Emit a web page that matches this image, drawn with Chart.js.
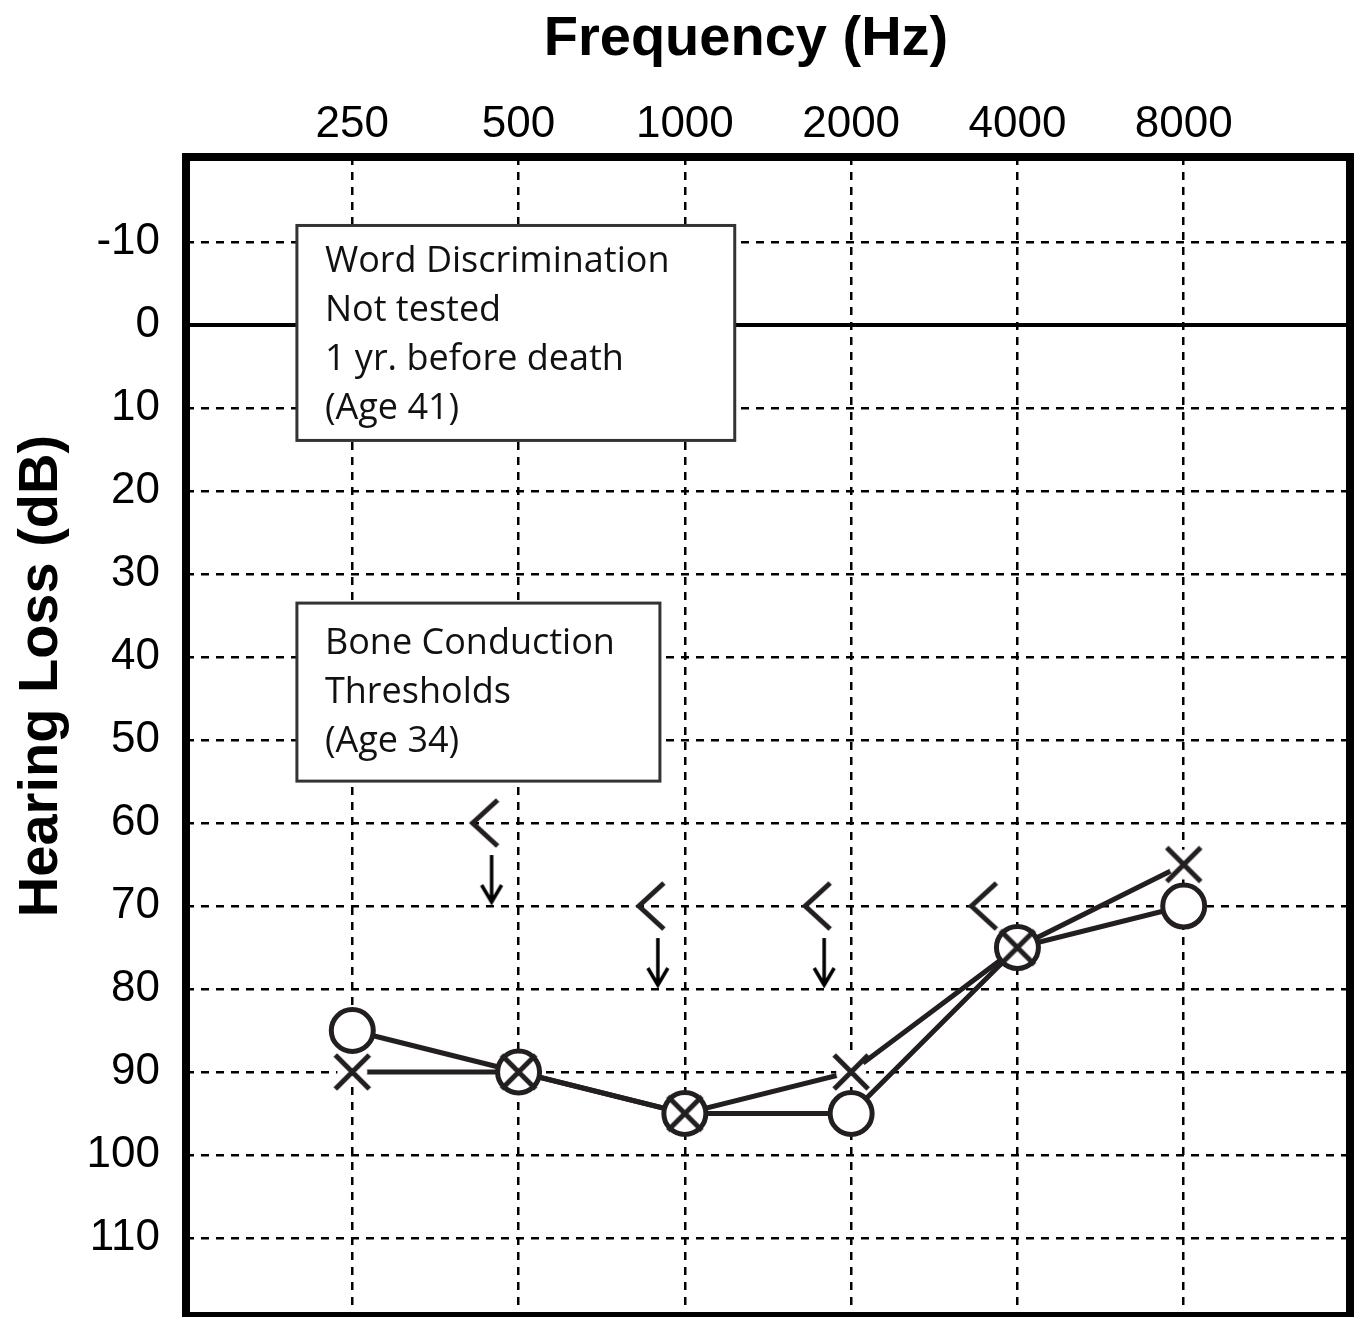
<!DOCTYPE html>
<html>
<head>
<meta charset="utf-8">
<script src="https://cdn.jsdelivr.net/npm/chart.js@4.4.1/dist/chart.umd.min.js"></script>
<style>
  html, body { margin: 0; padding: 0; background: #fff; overflow: hidden; }
  canvas { display: block; }
</style>
</head>
<body>
<canvas id="audiogram" width="1360" height="1317"></canvas>
<script>
// audiogram data (dB hearing level)
const freqLabels = ['250', '500', '1000', '2000', '4000', '8000'];
const rightEarDb = [85, 90, 95, 95, 75, 70];      // O symbols
const leftEarDb = [90, 90, 95, 90, 75, 65];       // X symbols
const boneDb = [null, 60, 70, 70, 70, null];      // < symbols
const boneNoResponse = [false, true, true, true, false, false];

const xTitle = 'Frequency (Hz)';
const yTitle = 'Hearing Loss (dB)';
const wordNote = ['Word Discrimination', 'Not tested', '1 yr. before death', '(Age 41)'];
const boneNote = ['Bone Conduction', 'Thresholds', '(Age 34)'];

const ink = '#231f20';
const pts = (arr) => arr.map((v, i) => ({ x: i, y: v }));

// X marker with a small white mask so the lines stop short of it
const makeCross = () => {
  const c = document.createElement('canvas');
  c.width = c.height = 60;
  const g = c.getContext('2d');
  const m = 30, h = 17;
  g.fillStyle = '#fff';
  g.beginPath(); g.arc(m, m, 15, 0, Math.PI * 2); g.fill();
  g.strokeStyle = ink; g.lineWidth = 5;
  g.beginPath();
  g.moveTo(m - h, m - h); g.lineTo(m + h, m + h);
  g.moveTo(m + h, m - h); g.lineTo(m - h, m + h);
  g.stroke();
  return c;
};

// bone conduction "<" drawn to the left of the frequency line, optional no-response arrow
const makeBone = (arrow) => {
  const c = document.createElement('canvas');
  c.width = 120; c.height = 170;
  const g = c.getContext('2d');
  const vx = 60 - 46, vy = 85;
  g.strokeStyle = ink; g.lineWidth = 5; g.lineJoin = 'miter';
  g.beginPath();
  g.moveTo(vx + 25, vy - 23); g.lineTo(vx, vy); g.lineTo(vx + 25, vy + 23);
  g.stroke();
  if (arrow) {
    const ax = vx + 19, tip = vy + 79;
    g.strokeStyle = '#000'; g.lineWidth = 3.5;
    g.beginPath();
    g.moveTo(ax, vy + 32); g.lineTo(ax, tip);
    g.moveTo(ax - 10, tip - 17); g.lineTo(ax, tip); g.lineTo(ax + 10, tip - 17);
    g.stroke();
  }
  return c;
};

const crossImg = makeCross();
const boneArrow = makeBone(true);
const boneOnly = makeBone(false);

const drawNote = (chart, lines, x0, x1, y0, y1, firstBase, lineGap) => {
  const { ctx, scales: { x, y } } = chart;
  const l = x.getPixelForValue(x0), r = x.getPixelForValue(x1);
  const t = y.getPixelForValue(y0), b = y.getPixelForValue(y1);
  ctx.save();
  ctx.fillStyle = '#fff';
  ctx.fillRect(l, t, r - l, b - t);
  ctx.strokeStyle = '#333'; ctx.lineWidth = 3;
  ctx.strokeRect(l, t, r - l, b - t);
  ctx.fillStyle = '#111';
  ctx.font = '36px "Open Sans"';
  ctx.textAlign = 'left'; ctx.textBaseline = 'alphabetic';
  lines.forEach((s, i) => ctx.fillText(s, l + 28, t + firstBase + i * lineGap));
  ctx.restore();
};

const notesPlugin = {
  id: 'notes',
  beforeDatasetsDraw(chart) {
    drawNote(chart, wordNote, -0.333, 2.3, -12, 13.9, 47, 49);
    drawNote(chart, boneNote, -0.333, 1.85, 33.5, 54.95, 51, 49);
  },
  afterDraw(chart) {
    const { ctx, chartArea: a } = chart;
    ctx.save();
    ctx.strokeStyle = '#000'; ctx.lineWidth = 8;
    ctx.strokeRect(a.left, a.top, a.right - a.left, a.bottom - a.top);
    ctx.fillStyle = '#000';
    ctx.font = 'bold 56px "Liberation Sans"';
    ctx.textAlign = 'center'; ctx.textBaseline = 'alphabetic';
    ctx.fillText(xTitle, 746, 55);
    ctx.translate(57, 676);
    ctx.rotate(-Math.PI / 2);
    ctx.fillText(yTitle, 0, 0);
    ctx.restore();
  }
};

const gridDash = (c) => (c.tick && c.tick.value === 0 ? [] : [8, 7]);

new Chart(document.getElementById('audiogram'), {
  type: 'line',
  data: {
    datasets: [
      { label: 'Right ear', data: pts(rightEarDb), borderColor: ink, borderWidth: 5, pointRadius: 0, tension: 0, order: 3 },
      { label: 'Left ear', data: pts(leftEarDb), borderColor: ink, borderWidth: 5, pointRadius: 0, tension: 0, order: 3 },
      { label: 'Right ear O', data: pts(rightEarDb), showLine: false, pointStyle: 'circle', pointRadius: 21,
        pointBorderWidth: 5, pointBorderColor: ink, pointBackgroundColor: '#fff', order: 2 },
      { label: 'Left ear X', data: pts(leftEarDb), showLine: false, pointStyle: crossImg, order: 1 },
      { label: 'Bone conduction', data: pts(boneDb), showLine: false,
        pointStyle: boneNoResponse.map(f => (f ? boneArrow : boneOnly)), order: 1 }
    ]
  },
  options: {
    responsive: false,
    animation: false,
    layout: { autoPadding: false, padding: { left: 0, top: 0, right: 10, bottom: 1 } },
    plugins: { legend: { display: false }, tooltip: { enabled: false } },
    scales: {
      x: {
        type: 'linear',
        position: 'top',
        min: -1, max: 6,
        afterFit: (s) => { s.height = 157; s.paddingLeft = 0; s.paddingRight = 0; },
        ticks: {
          stepSize: 1,
          padding: 6,
          color: '#000',
          font: { family: 'Liberation Sans', size: 44 },
          callback: (v) => freqLabels[v] || ''
        },
        grid: {
          drawTicks: false,
          lineWidth: 2.5,
          color: (c) => (c.tick && c.tick.value >= 0 && c.tick.value <= 5 ? '#000' : 'rgba(0,0,0,0)')
        },
        border: { display: false, dash: [8, 7] }
      },
      y: {
        reverse: true,
        min: -20.25, max: 119.4,
        afterFit: (s) => { s.width = 186; s.paddingTop = 0; s.paddingBottom = 0; },
        ticks: {
          stepSize: 10,
          includeBounds: false,
          padding: 26,
          color: '#000',
          font: { family: 'Liberation Sans', size: 44 },
          callback: (v) => (v >= -10 && v <= 110 ? String(v) : '')
        },
        grid: {
          drawTicks: false,
          lineWidth: (c) => (c.tick && c.tick.value === 0 ? 4 : 2.5),
          color: (c) => (c.tick && c.tick.value >= -10 ? '#000' : 'rgba(0,0,0,0)')
        },
        border: { display: false, dash: gridDash }
      }
    }
  },
  plugins: [notesPlugin]
});
</script>
</body>
</html>
